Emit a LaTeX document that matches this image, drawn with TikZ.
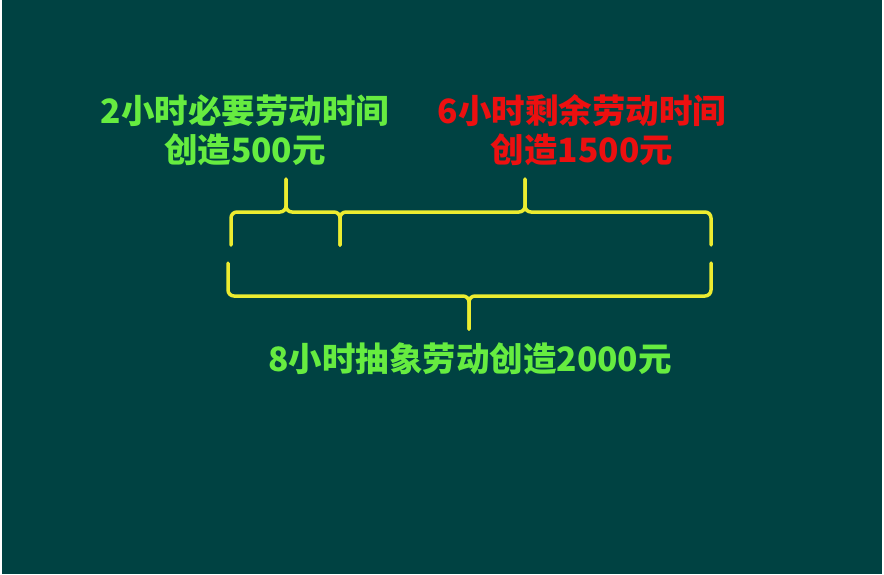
\documentclass[tikz,border=0pt]{standalone}
\usepackage{fontspec}
\usepackage{xcolor}
\newfontfamily\cjk{Noto Sans CJK SC}
\definecolor{board}{RGB}{0,66,66}
\definecolor{chalkgreen}{RGB}{102,236,64}
\definecolor{chalkred}{RGB}{236,16,16}
\definecolor{chalkyellow}{RGB}{236,236,48}
\tikzset{
  brc/.style={draw=chalkyellow, line width=3.5pt, rounded corners=6pt, line cap=round},
  lbl/.style={align=center, inner sep=0pt, font=\cjk\bfseries\fontsize{33.5}{39}\selectfont}
}

\begin{document}
\begin{tikzpicture}[x=1pt,y=-1pt]

\useasboundingbox (0,0) rectangle (884,574);
\fill[white] (0,0) rectangle (884,574);
\fill[board] (2,0) rectangle (882,574);

\coordinate (topline) at (0,212);
\coordinate (botline) at (0,296);
\coordinate (L1) at (231,245);
\coordinate (T1) at (286,179);
\coordinate (M) at (340,245);
\coordinate (T2) at (525,179);
\coordinate (R1) at (711,245);
\coordinate (L2) at (228,263);
\coordinate (B) at (469,329);
\coordinate (R2) at (711,263);

\draw[brc] (L1) |- (T1 |- topline) -- (T1);
\draw[brc] (T1) -- (T1 |- topline) -| (M);
\draw[brc] (M) |- (T2 |- topline) -- (T2);
\draw[brc] (T2) -- (T2 |- topline) -| (R1);
\draw[brc] (L2) |- (B |- botline) -- (B);
\draw[brc] (B) -- (B |- botline) -| (R2);

\node[lbl, text=chalkgreen] (nec) at (245,130) {2小时必要劳动时间\\创造500元};
\node[lbl, text=chalkred] (sur) at (582,130) {6小时剩余劳动时间\\创造1500元};
\node[lbl, text=chalkgreen] (tot) at (470,359) {8小时抽象劳动创造2000元};

\end{tikzpicture}
\end{document}
